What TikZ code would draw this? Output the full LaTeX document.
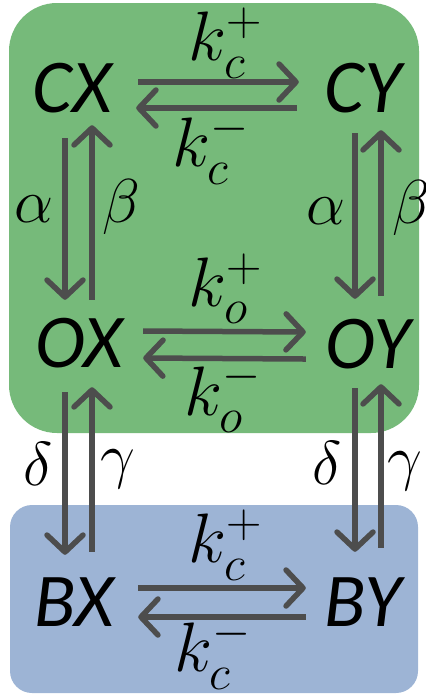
\RequirePackage{fix-cm}
\documentclass[tikz,border=0pt]{standalone}
\usepackage{fontspec}
\newfontfamily\labfont{Carlito}
\usetikzlibrary{arrows.meta}
\definecolor{grn}{RGB}{118,186,122}
\definecolor{blu}{RGB}{157,180,213}
\definecolor{arc}{RGB}{77,77,77}
\tikzset{
  state/.style={font=\labfont\itshape\fontsize{76}{78}\selectfont, inner sep=0pt,
    minimum width=128pt, minimum height=86pt, text=black},
  arr/.style={draw=arc, line width=5.5pt,
    -{Straight Barb[length=17pt,width=36pt,line cap=round,line join=round]}},
  rate/.style={font=\fontsize{70}{74}\selectfont, inner sep=0pt, text=black},
  greek/.style={font=\fontsize{62}{66}\selectfont, inner sep=0pt, text=black},
}
\begin{document}
\begin{tikzpicture}[x=1pt,y=-1pt]
\useasboundingbox (0,0) rectangle (426,697);
\fill[grn, rounded corners=48pt] (9,3) rectangle (419,433);
\fill[blu, rounded corners=22pt] (10,505) rectangle (418,693);

\node[state] (CX) at (72,88) {CX};
\node[state] (CY) at (363,88) {CY};
\node[state] (OX) at (79,343) {OX};
\node[state] (OY) at (368,344) {OY};
\node[state] (BX) at (74,602) {BX};
\node[state] (BY) at (363,602) {BY};

% top row
\draw[arr, shorten <=2pt] ([yshift=6pt]CX.east) -- node[rate, above=1pt, xshift=8pt] {$k_c^+$} ([yshift=6pt]CY.west);
\draw[arr, shorten <=2pt] ([yshift=-20pt]CY.west) -- node[rate, below=2pt, xshift=-7pt] {$k_c^-$} ([yshift=-20pt]CX.east);
% middle row
\draw[arr, shorten >=-2pt] ([yshift=12pt]OX.east) -- node[rate, above=5pt, xshift=2pt] {$k_o^+$} ([yshift=12pt]OY.west);
\draw[arr, shorten <=-2pt] ([yshift=-15pt]OY.west) -- node[rate, below=0pt, xshift=-1pt] {$k_o^-$} ([yshift=-15pt]OX.east);
% bottom row
\draw[arr, shorten >=-7pt] ([yshift=14pt]BX.east) -- node[rate, above=5pt, xshift=7pt] {$k_c^+$} ([yshift=14pt]BY.west);
\draw[arr, shorten <=-7pt] ([yshift=-15pt]BY.west) -- node[rate, below=-2pt, xshift=-6pt] {$k_c^-$} ([yshift=-15pt]BX.east);

% left verticals, top
\draw[arr] ([xshift=-7pt,yshift=-7pt]CX.south) -- node[greek, left=9pt, pos=0.44] {$\alpha$} ([xshift=-7pt]CX.south |- OX.north);
\draw[arr] ([xshift=20pt]CX.south |- OX.north) -- node[greek, right=8pt, pos=0.53] {$\beta$} ([xshift=20pt,yshift=6pt]CX.south);
% right verticals, top
\draw[arr] ([xshift=-8pt,yshift=-2pt]CY.south) -- node[greek, left=7pt, pos=0.47] {$\alpha$} ([xshift=-8pt,yshift=2pt]CY.south |- OY.north);
\draw[arr] ([xshift=18pt,yshift=5pt]CY.south |- OY.north) -- node[greek, right=9pt, pos=0.53] {$\beta$} ([xshift=18pt,yshift=1pt]CY.south);
% left verticals, bottom
\draw[arr] ([xshift=-14pt,yshift=-6pt]OX.south) -- node[greek, left=10pt, pos=0.44] {$\delta$} ([xshift=-14pt,yshift=4pt]OX.south |- BX.north);
\draw[arr] ([xshift=13pt,yshift=7pt]OX.south |- BX.north) -- node[greek, right=6pt, pos=0.5] {$\gamma$} ([xshift=13pt,yshift=-1pt]OX.south);
% right verticals, bottom
\draw[arr] ([xshift=-13pt,yshift=-1pt]OY.south) -- node[greek, left=11pt, pos=0.46] {$\delta$} ([xshift=-13pt,yshift=7pt]OY.south |- BY.north);
\draw[arr] ([xshift=13pt,yshift=11pt]OY.south |- BY.north) -- node[greek, right=4pt, pos=0.47] {$\gamma$} ([xshift=13pt,yshift=3pt]OY.south);
\end{tikzpicture}
\end{document}
